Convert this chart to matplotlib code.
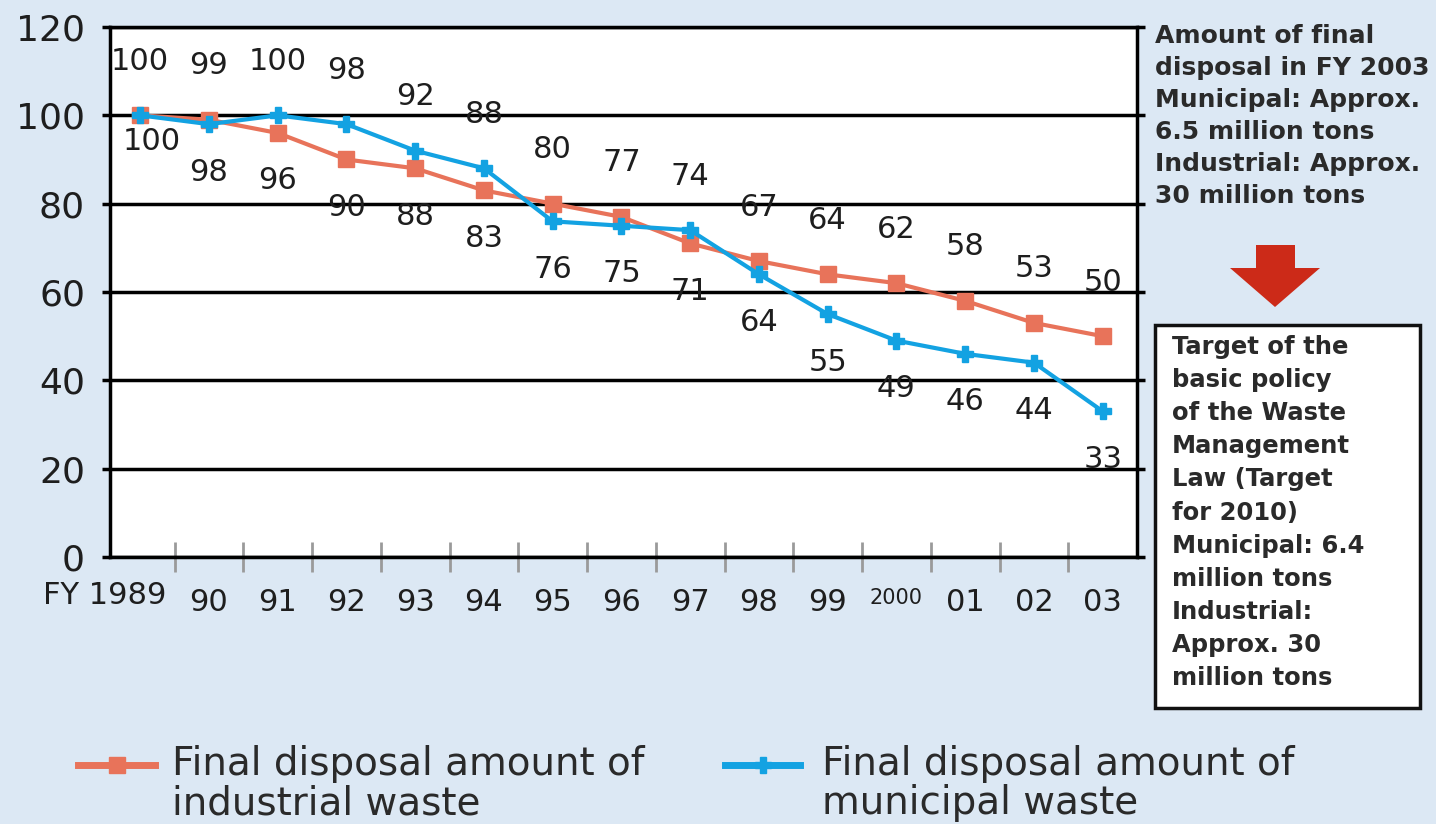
import matplotlib.pyplot as plt
from matplotlib.lines import Line2D
from matplotlib.patches import Polygon, Rectangle

# data (index, FY1989 = 100)
years = ['FY 1989', '90', '91', '92', '93', '94', '95', '96', '97', '98',
         '99', '2000', '01', '02', '03']
industrial = [100, 99, 96, 90, 88, 83, 80, 77, 71, 67, 64, 62, 58, 53, 50]
municipal = [100, 98, 100, 98, 92, 88, 76, 75, 74, 64, 55, 49, 46, 44, 33]
y_ticks = [0, 20, 40, 60, 80, 100, 120]

legend_labels = ['Final disposal amount of\nindustrial waste',
                 'Final disposal amount of\nmunicipal waste']
note_top = ('Amount of final\ndisposal in FY 2003\nMunicipal: Approx.\n'
            '6.5 million tons\nIndustrial: Approx.\n30 million tons')
note_box = ('Target of the\nbasic policy\nof the Waste\nManagement\n'
            'Law (Target\nfor 2010)\nMunicipal: 6.4\nmillion tons\n'
            'Industrial:\nApprox. 30\nmillion tons')

bg = '#dce8f4'
red = '#e8735a'
blue = '#13a2e2'
txt = '#1e1e1e'

W, H = 1436, 824
fig = plt.figure(figsize=(W / 100, H / 100), dpi=100, facecolor=bg)
ax = fig.add_axes([110 / W, 1 - 557 / H, (1137 - 110) / W, (557 - 27) / H])
ax.set_facecolor('white')

x = list(range(len(years)))
ax.plot(x, industrial, color=red, lw=3, marker='s', ms=11, zorder=3)
ax.plot(x, municipal, color=blue, lw=3, marker='P', ms=11, zorder=4)

# value labels: the higher value of each year sits above, the other below
for i in x:
    hi = max(industrial[i], municipal[i])
    lo = min(industrial[i], municipal[i])
    ax.annotate(str(hi), (i, hi), xytext=(0, 54), textcoords='offset pixels',
                ha='center', va='center', fontsize=22, color=txt)
    if i == 0:
        continue
    ax.annotate(str(lo), (i, lo), xytext=(0, -48), textcoords='offset pixels',
                ha='center', va='center', fontsize=22, color=txt)
# both series start at 100, the second label goes just under the point
ax.annotate(str(municipal[0]), (0, municipal[0]), xytext=(12, -26),
            textcoords='offset pixels', ha='center', va='center',
            fontsize=22, color=txt)

ax.set_xlim(-0.44, 14.5)
ax.set_ylim(0, 120)
ax.set_yticks(y_ticks)
ax.tick_params(axis='y', labelsize=26, labelcolor=txt, length=6, width=2.5,
               color='black', pad=12, right=True)
ax.yaxis.grid(True, color='black', lw=2.5)
ax.set_axisbelow(True)

ax.set_xticks(x, [''] + years[1:])
ax.set_xticks([i + 0.5 for i in x[:-1]], minor=True)
ax.tick_params(axis='x', which='major', length=0, labelsize=22,
               labelcolor=txt, pad=22)
ax.tick_params(axis='x', which='minor', direction='inout', length=22,
               width=2, color='#9a9a9a')
for lbl in ax.get_xticklabels():
    if lbl.get_text() == '2000':
        lbl.set_fontsize(15)
ax.annotate(years[0], (0, 0), xycoords=('data', 'axes fraction'),
            xytext=(26, -24), textcoords='offset pixels', ha='right',
            va='top', fontsize=22, color=txt)

for s in ax.spines.values():
    s.set_linewidth(2.5)
    s.set_color('black')

# right hand notes
fig.text(1155 / W, 1 - 24 / H, note_top, ha='left', va='top', fontsize=18,
         fontweight='bold', color='#2a2a2a', linespacing=1.42)
px = lambda x0, y0: (x0 / 100, (H - y0) / 100)
arrow = [px(1256, 245), px(1295, 245), px(1295, 268), px(1320, 268),
         px(1275, 307), px(1230, 268), px(1256, 268)]
fig.add_artist(Polygon(arrow, closed=True, transform=fig.dpi_scale_trans,
                       facecolor='#cc2a18', edgecolor='none'))
fig.add_artist(Rectangle(px(1155, 708), (1420 - 1155) / 100, (708 - 325) / 100,
                         transform=fig.dpi_scale_trans, facecolor='white',
                         edgecolor='#111111', lw=2.5))
fig.text(1172 / W, 1 - 335 / H, note_box, ha='left', va='top', fontsize=17.5,
         fontweight='bold', color='#2a2a2a', linespacing=1.48)

# legend drawn by hand
for (x0, x1, tx), col, mk, lab in zip([(78, 155, 172), (725, 800, 822)],
                                      [red, blue], ['s', 'P'], legend_labels):
    yy = 1 - 765 / H
    fig.add_artist(Line2D([x0 / W, x1 / W], [yy, yy], transform=fig.transFigure,
                          color=col, lw=5))
    fig.add_artist(Line2D([(x0 + x1) / 2 / W], [yy], transform=fig.transFigure,
                          color=col, marker=mk, ms=11))
    fig.text(tx / W, 1 - 745 / H, lab, ha='left', va='top', fontsize=28,
             color='#2a2a2a', linespacing=1.05)

fig.savefig('out.png', dpi=100, facecolor=bg)
